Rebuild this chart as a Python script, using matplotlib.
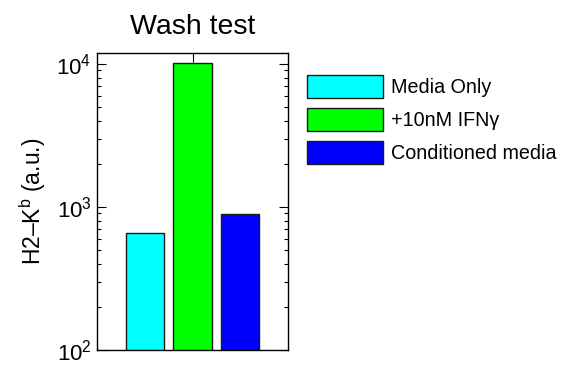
import matplotlib.pyplot as plt
from matplotlib.patches import Patch
from matplotlib.ticker import LogLocator, NullFormatter

plt.rcParams['font.family'] = ['Liberation Sans', 'DejaVu Sans']
plt.rcParams['mathtext.fontset'] = 'custom'
plt.rcParams['mathtext.rm'] = 'Liberation Sans'

# bar data
conditions = ['Media Only', '+10nM IFN\u03b3', 'Conditioned media']
values = [660, 10100, 890]
bar_colors = ['#00ffff', '#00ff00', '#0000ff']
positions = [1, 2, 3]
ytick_values = [1e2, 1e3, 1e4]
ytick_labels = [r'$\mathregular{10^{2}}$', r'$\mathregular{10^{3}}$', r'$\mathregular{10^{4}}$']

fig = plt.figure(figsize=(5.61, 3.67), dpi=100)
ax = fig.add_axes([0.1729, 0.0463, 0.3405, 0.8093])

ax.set_yscale('log')
ax.bar(positions, values, width=0.8, color=bar_colors, edgecolor='#1a1a1a', linewidth=1.0)

ax.set_xlim(0, 4)
ax.set_ylim(100, 1.19e4)

# x ticks: only one mark on top, no labels
ax.set_xticks([2])
ax.tick_params(axis='x', bottom=False, top=True, labelbottom=False,
               direction='in', length=6.3, width=0.8)

ax.set_yticks(ytick_values)
ax.set_yticklabels(ytick_labels, fontsize=16)
ax.yaxis.set_minor_locator(LogLocator(base=10, subs=range(2, 10)))
ax.yaxis.set_minor_formatter(NullFormatter())
ax.tick_params(axis='y', which='major', left=True, right=True, direction='in',
               length=6.3, width=0.8, pad=4)
ax.tick_params(axis='y', which='minor', left=True, right=True, direction='in',
               length=3.1, width=0.8)

for spine in ax.spines.values():
    spine.set_linewidth(1.0)

ax.set_title('Wash test', fontsize=20.5, pad=14)
ax.set_ylabel('H2\u2013K$\\mathregular{^{b}}$ (a.u.)', fontsize=16.5, labelpad=6)

handles = [Patch(facecolor=c, edgecolor='#1a1a1a', linewidth=1.0) for c in bar_colors]
fig.legend(handles, conditions, loc='upper left', bbox_to_anchor=(0.547, 0.7956),
           frameon=False, fontsize=14.2, handlelength=3.85, handleheight=1.42,
           handletextpad=0.4, labelspacing=0.5, borderpad=0, borderaxespad=0)

fig.savefig('out.png', dpi=100)
